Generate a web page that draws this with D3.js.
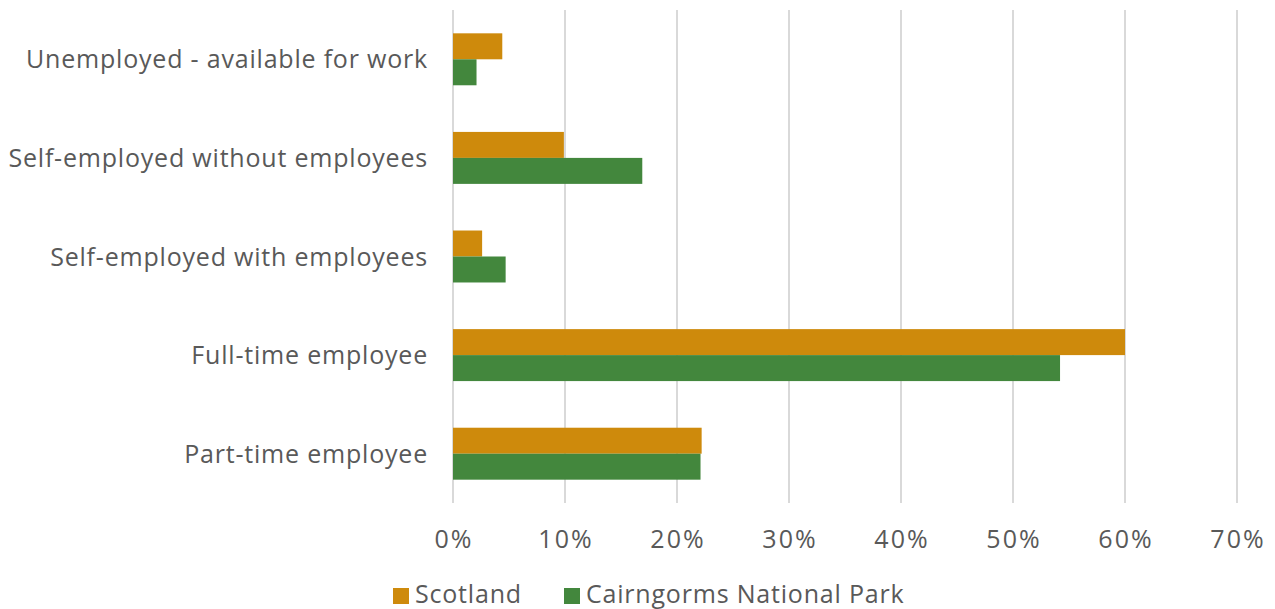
<!DOCTYPE html>
<html>
<head>
<meta charset="utf-8">
<script src="https://cdn.jsdelivr.net/npm/d3@7"></script>
<style>
  body { margin: 0; background: #fff; }
  text { font-family: "Open Sans", Lato, sans-serif; fill: #595959; font-size: 25px; letter-spacing: 0.8px; }
</style>
</head>
<body>
<div id="chart"></div>
<script>
const categories = [
  "Unemployed - available for work",
  "Self-employed without employees",
  "Self-employed with employees",
  "Full-time employee",
  "Part-time employee"
];
const seriesNames = ["Scotland", "Cairngorms National Park"];
const scotland = [4.4, 9.9, 2.6, 60.0, 22.2];
const cairngorms = [2.1, 16.9, 4.7, 54.2, 22.1];
const ticks = [0, 10, 20, 30, 40, 50, 60, 70];
const colors = ["#CE8A0C", "#43873D"];

const width = 1275, height = 609;
const margin = { top: 10, left: 453, right: 38, bottom: 106 };

const svg = d3.select("#chart").append("svg")
    .attr("width", width)
    .attr("height", height);

const x = d3.scaleLinear().domain([0, 70]).range([margin.left, width - margin.right]);
const y = d3.scaleBand().domain(categories)
    .range([margin.top, height - margin.bottom])
    .paddingInner(0.473).paddingOuter(0.2365);
const y1 = d3.scaleBand().domain(seriesNames).range([0, y.bandwidth()]);

// gridlines
svg.append("g").selectAll("line")
    .data(ticks)
    .join("line")
        .attr("x1", d => x(d)).attr("x2", d => x(d))
        .attr("y1", margin.top).attr("y2", height - margin.bottom)
        .attr("stroke", "#D9D9D9")
        .attr("stroke-width", 2);

// bars
const series = [scotland, cairngorms];
series.forEach((vals, s) => {
    svg.append("g").selectAll("rect")
        .data(vals)
        .join("rect")
            .attr("x", x(0))
            .attr("y", (d, i) => y(categories[i]) + y1(seriesNames[s]))
            .attr("width", d => x(d) - x(0))
            .attr("height", y1.bandwidth())
            .attr("fill", colors[s]);
});

// x axis labels
svg.append("g").selectAll("text")
    .data(ticks)
    .join("text")
        .attr("x", d => x(d) + 1)
        .attr("y", 548)
        .attr("text-anchor", "middle")
        .style("letter-spacing", "2px")
        .text(d => d + "%");

// category labels
svg.append("g").selectAll("text")
    .data(categories)
    .join("text")
        .attr("x", 428)
        .attr("y", d => y(d) + y.bandwidth() / 2 + 9)
        .attr("text-anchor", "end")
        .text(d => d);

// legend
const legendX = [393, 564];
const legend = svg.append("g").selectAll("g")
    .data(seriesNames)
    .join("g")
        .attr("transform", (d, i) => `translate(${legendX[i]},588)`);
legend.append("rect")
    .attr("width", 16).attr("height", 16)
    .attr("fill", (d, i) => colors[i]);
legend.append("text")
    .attr("x", 22).attr("y", 15)
    .text(d => d);
</script>
</body>
</html>
